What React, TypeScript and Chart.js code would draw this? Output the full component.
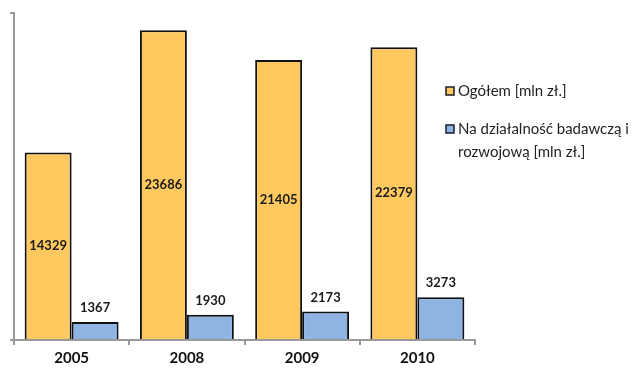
import React, { useEffect, useRef } from "react";
import { Chart, registerables } from "chart.js";

Chart.register(...registerables);

const years = ["2005", "2008", "2009", "2010"];
const totalSpending = [14329, 23686, 21405, 22379];
const rdSpending = [1367, 1930, 2173, 3273];
const seriesNames = ["Ogółem [mln zł.]", ["Na działalność badawczą i", "rozwojową [mln zł.]"]];

const ORANGE = "#FFC95F";
const BLUE = "#8DB4E3";
const FONT = "Lato, 'Open Sans', sans-serif";

// Value labels: centred inside the tall bars, above the short ones
const valueLabels = {
  id: "valueLabels",
  afterDatasetsDraw(chart: any) {
    const ctx = chart.ctx;
    ctx.save();
    ctx.fillStyle = "#1a1a1a";
    ctx.font = `bold 13px ${FONT}`;
    ctx.textAlign = "center";
    ctx.textBaseline = "middle";
    chart.data.datasets.forEach((ds: any, di: number) => {
      const meta = chart.getDatasetMeta(di);
      meta.data.forEach((bar: any, i: number) => {
        const v = ds.data[i];
        const y = di === 0 ? (bar.y + bar.base) / 2 : bar.y - 14;
        ctx.fillText(String(v), bar.x, y);
      });
    });
    ctx.restore();
  },
};

// Legend on the right with a wrapped second entry
const sideLegend = {
  id: "sideLegend",
  afterDraw(chart: any) {
    const ctx = chart.ctx;
    ctx.save();
    ctx.font = `15px ${FONT}`;
    ctx.textBaseline = "middle";
    ctx.textAlign = "left";
    const x = 446;
    const rows = [91, 129];
    chart.data.datasets.forEach((ds: any, di: number) => {
      const y = rows[di];
      ctx.fillStyle = ds.backgroundColor;
      ctx.fillRect(x, y - 4, 8, 8);
      ctx.strokeStyle = "#1a1a2a";
      ctx.lineWidth = 1.5;
      ctx.strokeRect(x, y - 4, 8, 8);
      ctx.fillStyle = "#1f1f1f";
      const name = seriesNames[di];
      const lines = Array.isArray(name) ? name : [name];
      lines.forEach((ln: string, li: number) => {
        ctx.fillText(ln, x + 12, y + li * 23);
      });
    });
    ctx.restore();
  },
};

export default function App() {
  const canvasRef = useRef<HTMLCanvasElement | null>(null);

  useEffect(() => {
    if (!canvasRef.current) return;
    const chart = new Chart(canvasRef.current, {
      type: "bar",
      data: {
        labels: years,
        datasets: [
          {
            label: "Ogółem [mln zł.]",
            data: totalSpending,
            backgroundColor: ORANGE,
            borderColor: "#111",
            borderWidth: 2,
            borderSkipped: "bottom",
            categoryPercentage: 0.815,
            barPercentage: 1,
          },
          {
            label: "Na działalność badawczą i rozwojową [mln zł.]",
            data: rdSpending,
            backgroundColor: BLUE,
            borderColor: "#111",
            borderWidth: 2,
            borderSkipped: "bottom",
            categoryPercentage: 0.815,
            barPercentage: 1,
          },
        ],
      },
      options: {
        animation: false,
        responsive: true,
        maintainAspectRatio: false,
        layout: { padding: { left: 10, right: 157, top: 13, bottom: -2 } },
        plugins: {
          legend: { display: false },
          tooltip: { enabled: false },
        },
        scales: {
          x: {
            grid: {
              display: true,
              drawOnChartArea: false,
              drawTicks: true,
              tickLength: 5,
              color: "#999",
              lineWidth: 2,
            },
            border: { display: true, color: "#999", width: 2 },
            ticks: {
              color: "#111",
              font: { family: FONT, size: 15, weight: "bold" },
              padding: 4,
            },
          },
          y: {
            min: 0,
            max: 25000,
            grid: {
              display: true,
              drawOnChartArea: false,
              drawTicks: true,
              tickLength: 4,
              color: "#999",
              lineWidth: 2,
            },
            border: { display: true, color: "#999", width: 2 },
            ticks: { display: false, stepSize: 25000 },
          },
        },
      },
      plugins: [valueLabels, sideLegend],
    });
    return () => chart.destroy();
  }, []);

  return (
    <div style={{ position: "absolute", left: 0, top: 0, width: 632, height: 369, background: "#fff" }}>
      <canvas ref={canvasRef} />
    </div>
  );
}
